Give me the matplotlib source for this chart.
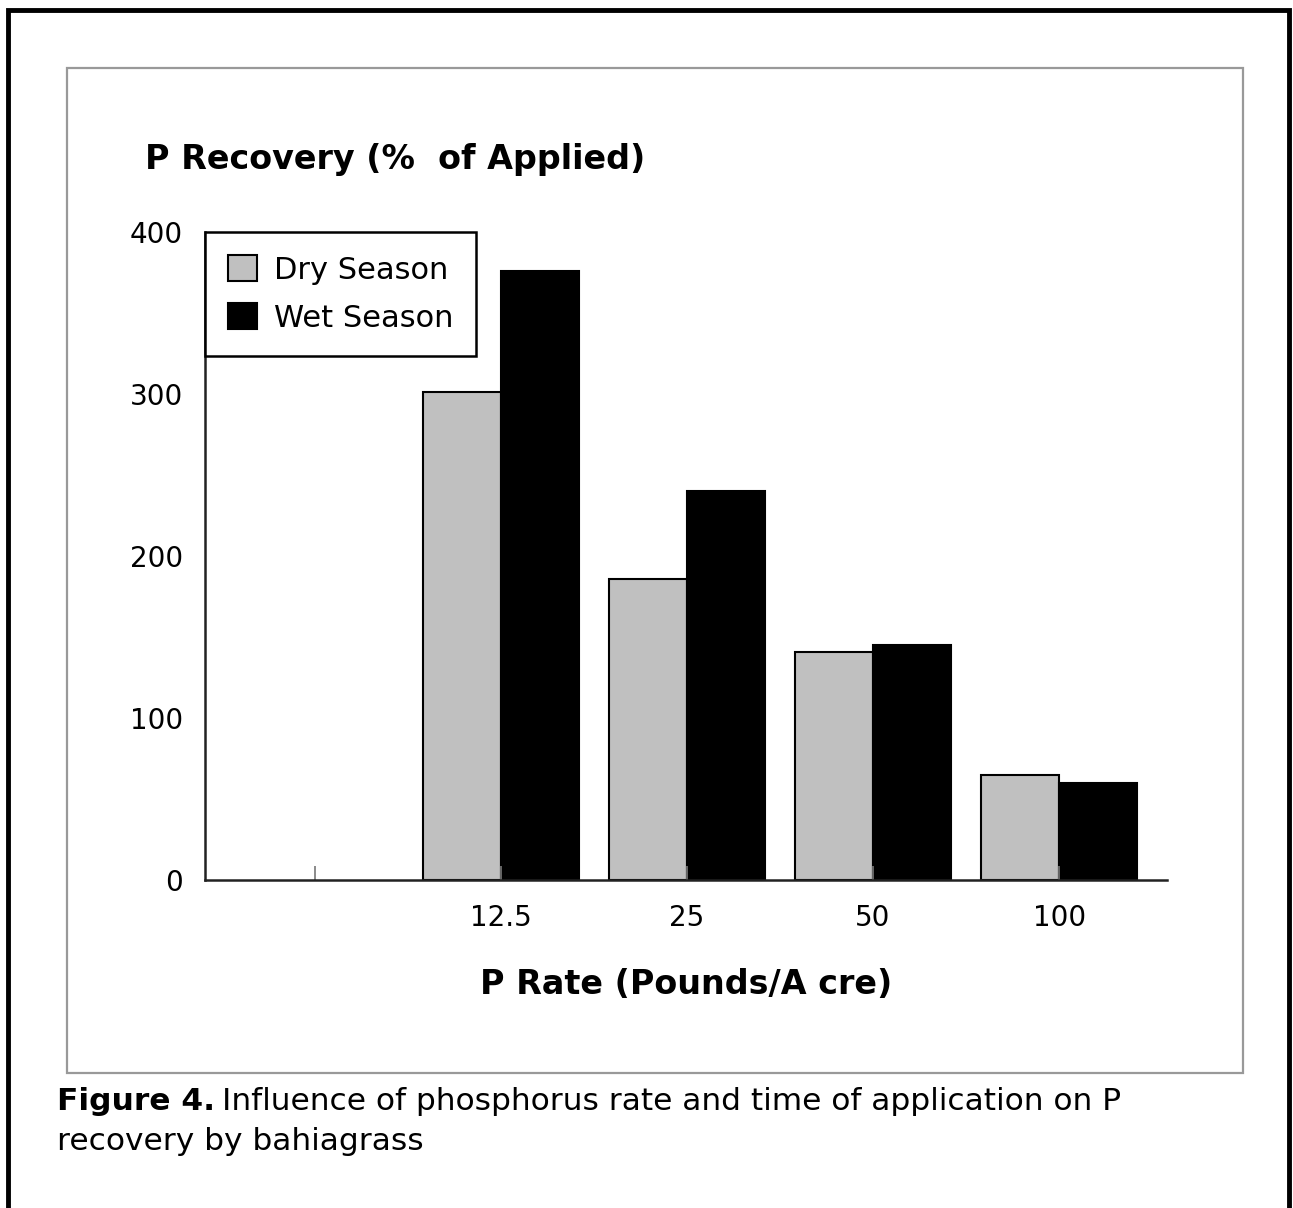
import numpy as np
import matplotlib
matplotlib.use('Agg')
from matplotlib import pyplot as plt
from matplotlib.patches import Rectangle

# data
rates = ['12.5', '25', '50', '100']
dry_season = [301, 186, 141, 65]
wet_season = [376, 240, 145, 60]
y_ticks = [0, 100, 200, 300, 400]

W, H = 1293, 1208
fig = plt.figure(figsize=(W / 100, H / 100), dpi=100)

def fx(px):
    return px / W

def fy(py):
    return 1 - py / H

# outer black frame and grey inner panel
fig.patches.append(Rectangle((fx(8), fy(1215)), fx(1281), 1215 / H - 10 / H,
                             transform=fig.transFigure, fill=False,
                             edgecolor='black', linewidth=3.5))
fig.patches.append(Rectangle((fx(67), fy(1073)), fx(1176), (1073 - 68) / H,
                             transform=fig.transFigure, fill=False,
                             edgecolor='#999999', linewidth=1.6))

ax = fig.add_axes([fx(205), fy(880), fx(1167 - 205), (880 - 232) / H])

pos = np.arange(1, len(rates) + 1)
w = 0.42
ax.bar(pos - w / 2, dry_season, w, color='#c0c0c0', edgecolor='black',
       linewidth=1.5, label='Dry Season')
ax.bar(pos + w / 2, wet_season, w, color='black', edgecolor='black',
       linewidth=1.5, label='Wet Season')

ax.set_xlim(-0.59, 4.58)
ax.set_ylim(0, 400)
ax.set_xticks(np.arange(0, len(rates) + 1))
ax.set_xticklabels([''] + rates, fontsize=20, family='DejaVu Sans')
ax.set_yticks(y_ticks)
ax.set_yticklabels([str(v) for v in y_ticks], fontsize=20, family='DejaVu Sans')
ax.tick_params(axis='x', direction='in', length=10, width=1.2, color='#777777', pad=17)
ax.tick_params(axis='y', direction='out', length=0, pad=16)

for s in ['top', 'right']:
    ax.spines[s].set_visible(False)
for s in ['left', 'bottom']:
    ax.spines[s].set_linewidth(1.8)
    ax.spines[s].set_color('#222222')

ax.set_xlabel('P Rate (Pounds/A cre)', fontsize=24, fontweight='bold',
              family='DejaVu Sans', labelpad=26)

leg = ax.legend(loc='upper left', bbox_to_anchor=(0, 1), borderaxespad=0,
                fancybox=False, edgecolor='black',
                prop={'family': 'DejaVu Sans', 'size': 22},
                handlelength=0.95, handleheight=0.95, handletextpad=0.55,
                borderpad=0.75, labelspacing=0.6, framealpha=1)
leg.get_frame().set_linewidth(1.8)

fig.text(fx(145), fy(160), 'P Recovery (%  of Applied)', fontsize=24,
         fontweight='bold', family='DejaVu Sans', va='center', ha='left')

# caption
fig.text(fx(57), fy(1101), 'Figure 4.', fontsize=22.5, fontweight='bold',
         family='DejaVu Sans', va='center', ha='left')
fig.text(fx(222), fy(1101), 'Influence of phosphorus rate and time of application on P',
         fontsize=22.5, family='DejaVu Sans', va='center', ha='left')
fig.text(fx(57), fy(1141), 'recovery by bahiagrass', fontsize=22.5,
         family='DejaVu Sans', va='center', ha='left')

fig.savefig('out.png', dpi=100, facecolor='white')
